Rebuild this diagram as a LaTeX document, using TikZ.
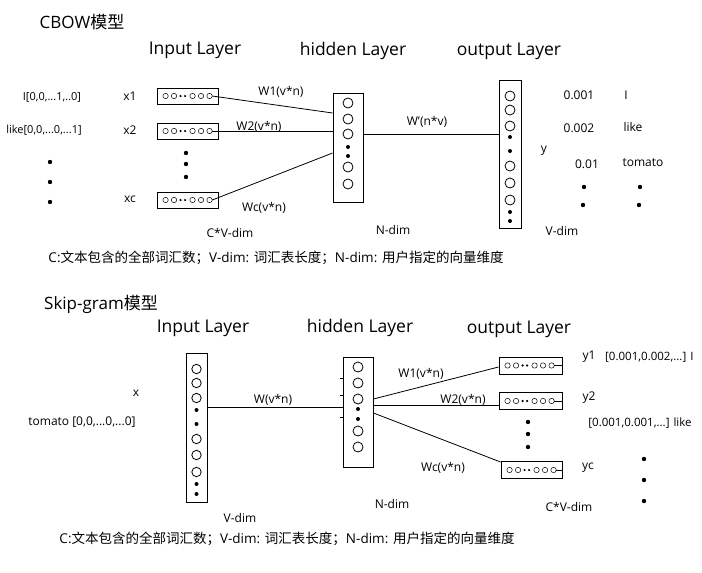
\documentclass[tikz,border=0pt]{standalone}
\usepackage{fontspec}
\setmainfont{Open Sans}
\newfontfamily\cjk{Noto Sans CJK SC}
\newcommand\minirow[1]{%
  \foreach \dx in {9,17.5,36,44.5,53} \draw[mini] ([xshift=\dx pt]#1.west) circle[radius=2.7pt];
  \foreach \dx in {24,28.5} \fill ([xshift=\dx pt]#1.west) circle[radius=1.2pt];
}
\newcommand\colcirc[4]{%
  \foreach \yy in {#2} \draw[bigc] (#1,\yy) circle[radius=#4];
  \foreach \yy in {#3} \fill (#1,\yy) circle[radius=2pt];
}
\begin{document}
\begin{tikzpicture}[x=1pt,y=-1pt,
  hdr/.style={font=\fontsize{17.5}{20}\selectfont, inner sep=0},
  ttl/.style={font=\fontsize{17}{20}\selectfont, inner sep=0},
  lbl/.style={font=\fontsize{12}{14}\selectfont, inner sep=0},
  sml/.style={font=\fontsize{11}{13}\selectfont, inner sep=0},
  vec/.style={font=\fontsize{11.5}{13}\selectfont, inner sep=0},
  captxt/.style={font=\fontsize{13.5}{16}\selectfont, inner sep=0},
  box/.style={draw, line width=0.9pt, inner sep=0},
  mini/.style={line width=0.5pt},
  bigc/.style={line width=0.8pt},
  wire/.style={line width=0.8pt}]
\useasboundingbox (0,0) rectangle (702,573);

% ================= CBOW =================
\node[ttl] (t1) at (82,22) {CBOW{\cjk 模型}};
\node[hdr] (h1a) at (195,50) {Input Layer};
\node[hdr] (h1b) at (353,51) {hidden Layer};
\node[hdr] (h1c) at (509,51) {output Layer};

\node[sml] (w1) at (52,97) {I[0,0,...1,..0]};
\node[sml] (w2) at (44,130) {like[0,0,...0,...1]};
\foreach \yy [count=\i] in {162,182,202} \fill (50,\yy) circle[radius=2.2pt];

\node[lbl] (x1) at (130,96) {x1};
\node[lbl] (x2) at (130,130) {x2};
\node[lbl] (xc) at (130,199) {xc};

\node[box, minimum width=61pt, minimum height=16pt] (in1) at (187.5,96) {};
\node[box, minimum width=61pt, minimum height=16pt] (in2) at (187.5,131) {};
\node[box, minimum width=61pt, minimum height=16pt] (inc) at (187.5,200) {};
\minirow{in1}\minirow{in2}\minirow{inc}
\foreach \yy in {153,164,177} \fill (186,\yy) circle[radius=2.2pt];

\node[box, minimum width=30pt, minimum height=109pt] (hid1) at (348,147.5) {};
\colcirc{348}{103,119,134,167,184}{147,156}{5pt}

\node[box, minimum width=22pt, minimum height=148pt] (out1) at (510,154) {};
\colcirc{510}{96,110,126,166,183,200}{137,151,212,221}{5pt}

\coordinate (in1o) at ([xshift=55.7pt]in1.west);
\coordinate (in2o) at ([xshift=55.7pt]in2.west);
\coordinate (inco) at ([xshift=55.7pt]inc.west);
\draw[wire] (in1o) -- (hid1.west |- 0,113);
\draw[wire] (in2o) -- (hid1.west |- 0,131);
\draw[wire] (inco) -- (hid1.west |- 0,153);
\draw[wire] (hid1.east |- 0,134) -- (out1.west |- 0,134);

\node[lbl] (lw1) at (281,92) {W1(v*n)};
\node[lbl] (lw2) at (259,127) {W2(v*n)};
\node[lbl] (lwc) at (264,208) {Wc(v*n)};
\node[lbl] (lwp) at (427,122) {W'(n*v)};
\node[lbl] (cvd1) at (230,233) {C*V-dim};
\node[lbl] (nd1) at (393,230) {N-dim};
\node[lbl] (vd1) at (562,231) {V-dim};

\node[lbl] (p1) at (579,95) {0.001};
\node[lbl] (q1) at (626,95) {I};
\node[lbl] (p2) at (579,128) {0.002};
\node[lbl] (q2) at (633,127) {like};
\node[lbl] (yy) at (544,151) {y};
\node[lbl] (p3) at (587,164) {0.01};
\node[lbl] (q3) at (643,163) {tomato};
\foreach \xx/\yy in {584/187,583/205,640/187,639/205} \fill (\xx,\yy) circle[radius=2.2pt];

\node[captxt] (c1) at (276,258) {C:{\cjk 文本包含的全部词汇数；}V-dim: {\cjk 词汇表长度；}N-dim: {\cjk 用户指定的向量维度}};

% ================= Skip-gram =================
\node[ttl] (t2) at (101,304) {Skip-gram{\cjk 模型}};
\node[hdr] (h2a) at (203,328) {Input Layer};
\node[hdr] (h2b) at (360,328) {hidden Layer};
\node[hdr] (h2c) at (519,329) {output Layer};

\node[lbl] (sx) at (136,393) {x};
\node[lbl] (stom) at (82,422) {tomato [0,0,...0,...0]};

\node[box, minimum width=21pt, minimum height=149pt] (sin) at (196.5,427.5) {};
\colcirc{196.5}{369,383,398,439,455,472}{410,424,484,494}{4.7pt}

\node[box, minimum width=30pt, minimum height=110pt] (shid) at (358,412) {};
\colcirc{358}{367,383,399,431,447}{409,419}{5pt}
\foreach \yy in {378,395,417} \draw[line width=0.6pt] (shid.west |- 0,\yy) -- ++(-3,0);

\draw[wire] (sin.east |- 0,407) -- (shid.west |- 0,407);

\node[box, minimum width=63pt, minimum height=17pt] (so1) at (530.5,365.5) {};
\node[box, minimum width=63pt, minimum height=17pt] (so2) at (530.5,401) {};
\node[box, minimum width=61pt, minimum height=17pt] (soc) at (531.5,470) {};
\minirow{so1}\minirow{so2}\minirow{soc}
\foreach \n in {so1,so2,soc} \draw[line width=0.5pt] ([xshift=55.7pt]\n.west) -- (\n.east);
\foreach \yy in {422,434,447} \fill (528,\yy) circle[radius=2.2pt];

\draw[wire] (shid.east |- 0,399) -- (so1.west |- 0,367);
\draw[wire] (shid.east |- 0,405) -- (so2.west |- 0,405);
\draw[wire] (shid.east |- 0,413) -- (soc.west |- 0,462);

\node[lbl] (sw) at (273,400) {W(v*n)};
\node[lbl] (sw1) at (421,374) {W1(v*n)};
\node[lbl] (sw2) at (463,400) {W2(v*n)};
\node[lbl] (swc) at (443,468) {Wc(v*n)};
\node[lbl] (svd) at (240,518) {V-dim};
\node[lbl] (snd) at (392,504) {N-dim};
\node[lbl] (scvd) at (569,507) {C*V-dim};

\node[lbl] (y1) at (589,357) {y1};
\node[vec, anchor=west] (r1) at (605,357) {[0.001,0.002,...] I};
\node[lbl] (y2) at (589,398) {y2};
\node[vec] (r2) at (640,423) {[0.001,0.001,...] like};
\node[lbl] (yc) at (588,468) {yc};
\foreach \yy in {459,480,501} \fill (644,\yy) circle[radius=2.2pt];

\node[captxt] (c2) at (287,539) {C:{\cjk 文本包含的全部词汇数；}V-dim: {\cjk 词汇表长度；}N-dim: {\cjk 用户指定的向量维度}};
\end{tikzpicture}
\end{document}
